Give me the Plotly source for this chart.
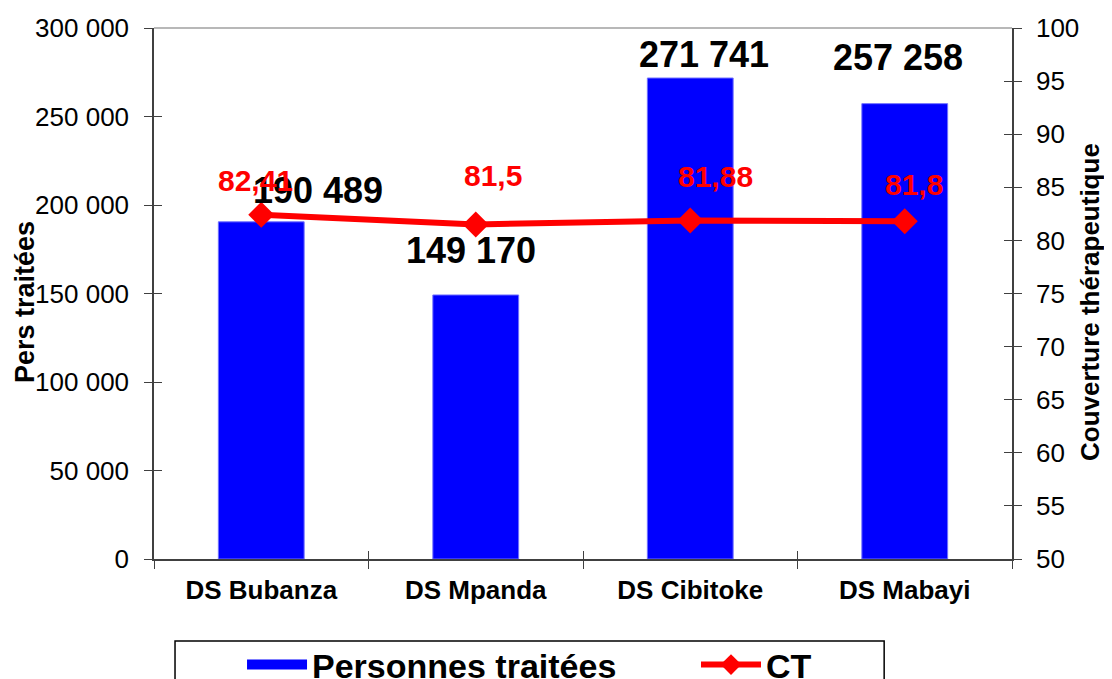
import plotly.graph_objects as go

categories = ["DS Bubanza", "DS Mpanda", "DS Cibitoke", "DS Mabayi"]
persons = [190489, 149170, 271741, 257258]
coverage = [82.41, 81.5, 81.88, 81.8]
left_ticks = [0, 50000, 100000, 150000, 200000, 250000, 300000]
right_ticks = [50, 55, 60, 65, 70, 75, 80, 85, 90, 95, 100]

# label offsets (pixels) for manually placed labels
bar_label_shift = [(57, 31), (-5, 44), (14, 24), (-7, 46)]
line_label_shift = [(-6, 34), (17, 49), (25, 44), (9, 37)]

FONT = "Liberation Sans, Arial, sans-serif"
BLUE = "#0000FF"
RED = "#FF0000"

fig = go.Figure()
fig.add_trace(go.Bar(
    x=categories, y=persons, name="Personnes traitées",
    marker=dict(color=BLUE, line=dict(color="#7070FF", width=1)),
    width=0.4, yaxis="y", showlegend=False,
))
# legend entry for the bars (wide swatch like the original)
fig.add_trace(go.Scatter(
    x=[None], y=[None], name="Personnes traitées", mode="lines",
    line=dict(color=BLUE, width=18), yaxis="y", hoverinfo="skip", legend="legend",
))
fig.add_trace(go.Scatter(
    x=categories, y=coverage, name="CT", mode="lines+markers",
    line=dict(color=RED, width=6),
    marker=dict(symbol="diamond", size=20, color=RED),
    yaxis="y2", legend="legend2",
))
# dummy traces for inside-tick overlay axes
fig.add_trace(go.Scatter(x=[], y=[], xaxis="x2", yaxis="y3", showlegend=False, hoverinfo="skip"))
fig.add_trace(go.Scatter(x=[], y=[], xaxis="x2", yaxis="y4", showlegend=False, hoverinfo="skip"))

fmt_int = lambda v: f"{v:,}".replace(",", " ")
fmt_dec = lambda v: str(v).replace(".", ",")

annotations = []
for c, v, (dx, dy) in zip(categories, persons, bar_label_shift):
    annotations.append(dict(x=c, y=v, xref="x", yref="y", text=fmt_int(v),
                            showarrow=False, xshift=dx, yshift=dy,
                            font=dict(family=FONT, size=36, color="black", weight="bold")))
for c, v, (dx, dy) in zip(categories, coverage, line_label_shift):
    annotations.append(dict(x=c, y=v, xref="x", yref="y2", text=fmt_dec(v),
                            showarrow=False, xshift=dx, yshift=dy,
                            font=dict(family=FONT, size=30, color=RED, weight="bold")))
# axis titles
annotations.append(dict(x=-0.1503, y=0.484, xref="paper", yref="paper", text="Pers traitées",
                        textangle=-90, showarrow=False, xanchor="center", yanchor="middle",
                        font=dict(family=FONT, size=27, color="black", weight="bold")))
annotations.append(dict(x=1.0909, y=0.484, xref="paper", yref="paper",
                        text="Couverture thérapeutique",
                        textangle=-90, showarrow=False, xanchor="center", yanchor="middle",
                        font=dict(family=FONT, size=26, color="black", weight="bold")))

axis_col = "#404040"
legend_font = dict(family=FONT, size=34, color="black", weight="bold")
fig.update_layout(
    width=1104, height=671,
    margin=dict(l=146, r=100, t=20, b=120, autoexpand=False),
    paper_bgcolor="white", plot_bgcolor="white",
    separators=", ",
    font=dict(family=FONT, size=26, color="black"),
    showlegend=True,
    legend=dict(orientation="h", x=0.1026, xanchor="left", y=-0.145, yanchor="top",
                borderwidth=0, bgcolor="rgba(0,0,0,0)", font=legend_font, itemwidth=60),
    legend2=dict(orientation="h", x=0.6317, xanchor="left", y=-0.145, yanchor="top",
                 borderwidth=0, bgcolor="rgba(0,0,0,0)", font=legend_font, itemwidth=60),
    xaxis=dict(type="category", tickson="boundaries", ticks="outside", ticklen=8,
               tickcolor=axis_col, showline=True, linecolor=axis_col, linewidth=1.5,
               showgrid=False, ticklabelstandoff=7, automargin=False,
               tickfont=dict(family=FONT, size=26, color="black", weight="bold"),
               range=[-0.5, 3.5]),
    xaxis2=dict(overlaying="x", range=[-0.5, 3.5], tickvals=[-0.5, 0.5, 1.5, 2.5, 3.5],
                ticks="inside", ticklen=8, tickcolor=axis_col, showticklabels=False,
                showgrid=False, zeroline=False, showline=False, anchor="y3", automargin=False),
    yaxis=dict(range=[0, 300000], tickvals=left_ticks, tickformat=",d", ticks="outside",
               ticklen=8, tickcolor=axis_col, showline=True, linecolor=axis_col, linewidth=1.5,
               showgrid=False, zeroline=False, ticklabelstandoff=10, automargin=False),
    yaxis2=dict(range=[50, 100], tickvals=right_ticks, overlaying="y", side="right",
                ticks="outside", ticklen=8, tickcolor=axis_col, showline=True,
                linecolor=axis_col, linewidth=1.5, showgrid=False, zeroline=False,
                ticklabelstandoff=9, automargin=False),
    yaxis3=dict(range=[0, 300000], tickvals=left_ticks, overlaying="y", side="left",
                ticks="inside", ticklen=8, tickcolor=axis_col, showticklabels=False,
                showgrid=False, zeroline=False, showline=False, anchor="x2", automargin=False),
    yaxis4=dict(range=[50, 100], tickvals=right_ticks, overlaying="y", side="right",
                ticks="inside", ticklen=8, tickcolor=axis_col, showticklabels=False,
                showgrid=False, zeroline=False, showline=False, anchor="x2", automargin=False),
    annotations=annotations,
    shapes=[
        dict(type="line", xref="paper", yref="paper", x0=0, x1=1, y0=1, y1=1,
             line=dict(color="#A0A0A0", width=1.5)),
        # legend frame
        dict(type="rect", xref="paper", yref="paper", x0=0.0245, x1=0.851,
             y0=-0.26, y1=-0.1544, line=dict(color="black", width=1.5)),
    ],
)

fig.write_html("out.html")
